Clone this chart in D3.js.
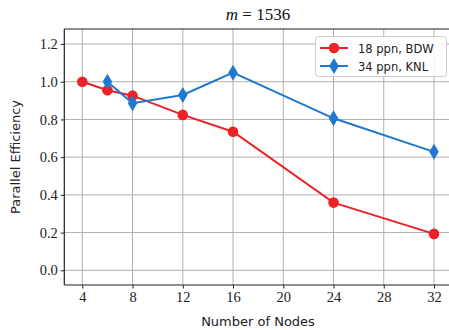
<!DOCTYPE html>
<html><head><meta charset="utf-8">
<script src="https://cdn.jsdelivr.net/npm/d3@7"></script>
<style>body{margin:0;background:#fff}svg{display:block}</style>
</head><body>
<script>
const xTicks = [4, 8, 12, 16, 20, 24, 28, 32];
const yTicks = [0.0, 0.2, 0.4, 0.6, 0.8, 1.0, 1.2];
const bdwNodes = [4, 6, 8, 12, 16, 24, 32];
const bdwEff = [1.0, 0.955, 0.926, 0.824, 0.735, 0.359, 0.193];
const knlNodes = [6, 8, 12, 16, 24, 32];
const knlEff = [1.0, 0.886, 0.93, 1.048, 0.806, 0.628];
const seriesNames = ["18 ppn, BDW", "34 ppn, KNL"];

const W = 449, H = 330;
const L = 64.3, T = 29, B = 285;
const x = d3.scaleLinear().domain([4, 32]).range([82.3, 434]);
const y = d3.scaleLinear().domain([0, 1.2]).range([270.3, 44]);
const R = x(32) + (x(32) - x(4)) * 0.05;

const RED = "#ec2226", BLUE = "#1f78cf";
const svg = d3.select("body").append("svg").attr("width", W).attr("height", H);

// grid
svg.append("g").selectAll("line").data(xTicks).join("line")
  .attr("x1", d => x(d)).attr("x2", d => x(d)).attr("y1", T).attr("y2", B)
  .attr("stroke", "#b0b0b0").attr("stroke-width", 1);
svg.append("g").selectAll("line").data(yTicks).join("line")
  .attr("y1", d => y(d)).attr("y2", d => y(d)).attr("x1", L).attr("x2", R)
  .attr("stroke", "#b0b0b0").attr("stroke-width", 1);

// axes
const xAxis = d3.axisBottom(x).tickValues(xTicks).tickSize(3.5).tickPadding(3).tickFormat(d3.format("d"));
const yAxis = d3.axisLeft(y).tickValues(yTicks).tickSize(3.5).tickPadding(3).tickFormat(d3.format(".1f"));
const gx = svg.append("g").attr("transform", `translate(0,${B})`).call(xAxis);
const gy = svg.append("g").attr("transform", `translate(${L},0)`).call(yAxis);
[gx, gy].forEach(g => {
  g.select(".domain").remove();
  g.selectAll("text").attr("font-family", "'Liberation Serif', 'DejaVu Serif', serif").attr("font-size", 14.5).attr("fill", "#222");
  g.selectAll("line").attr("stroke", "#222");
});
// spines
svg.append("line").attr("x1", L).attr("x2", L).attr("y1", T).attr("y2", B).attr("stroke", "#222").attr("stroke-width", 1.2);
svg.append("line").attr("x1", L).attr("x2", R).attr("y1", B).attr("y2", B).attr("stroke", "#222").attr("stroke-width", 1.2);
svg.append("line").attr("x1", L).attr("x2", R).attr("y1", T).attr("y2", T).attr("stroke", "#222").attr("stroke-width", 1.2);

// labels
svg.append("text").attr("x", 258).attr("y", 326).attr("text-anchor", "middle")
  .attr("font-family", "'DejaVu Sans', sans-serif").attr("font-size", 13).attr("fill", "#222").text("Number of Nodes");
svg.append("text").attr("transform", `translate(20,${(T + B) / 2}) rotate(-90)`).attr("text-anchor", "middle")
  .attr("font-family", "'DejaVu Sans', sans-serif").attr("font-size", 13).attr("fill", "#222").text("Parallel Efficiency");
const title = svg.append("text").attr("x", 258).attr("y", 20).attr("text-anchor", "middle")
  .attr("font-family", "'Liberation Serif', serif").attr("font-size", 17).attr("fill", "#111");
title.append("tspan").attr("font-style", "italic").text("m");
title.append("tspan").text(" = 1536");

const line = d3.line().x(d => x(d[0])).y(d => y(d[1]));
const bdw = bdwNodes.map((n, i) => [n, bdwEff[i]]);
const knl = knlNodes.map((n, i) => [n, knlEff[i]]);
const diamond = (cx, cy) => `M${cx},${cy - 8}L${cx + 4.8},${cy}L${cx},${cy + 8}L${cx - 4.8},${cy}Z`;

svg.append("path").datum(bdw).attr("d", line).attr("fill", "none").attr("stroke", RED).attr("stroke-width", 2);
svg.append("g").selectAll("circle").data(bdw).join("circle")
  .attr("cx", d => x(d[0])).attr("cy", d => y(d[1])).attr("r", 5.3).attr("fill", RED);
svg.append("path").datum(knl).attr("d", line).attr("fill", "none").attr("stroke", BLUE).attr("stroke-width", 2);
svg.append("g").selectAll("path").data(knl).join("path")
  .attr("d", d => diamond(x(d[0]), y(d[1]))).attr("fill", BLUE);

// legend
const lg = svg.append("g");
lg.append("rect").attr("x", 315.5).attr("y", 36.5).attr("width", 131).attr("height", 40).attr("rx", 3)
  .attr("fill", "#fff").attr("fill-opacity", 0.85).attr("stroke", "#ccc");
[RED, BLUE].forEach((c, i) => {
  const cy = 48 + i * 18;
  lg.append("line").attr("x1", 320).attr("x2", 348).attr("y1", cy).attr("y2", cy).attr("stroke", c).attr("stroke-width", 2);
  if (i === 0) lg.append("circle").attr("cx", 334).attr("cy", cy).attr("r", 5.3).attr("fill", c);
  else lg.append("path").attr("d", diamond(334, cy)).attr("fill", c);
  lg.append("text").attr("x", 358).attr("y", cy + 4.5).attr("font-family", "'DejaVu Sans', sans-serif")
    .attr("font-size", 11.5).attr("fill", "#222").text(seriesNames[i]);
});
</script>
</body></html>
